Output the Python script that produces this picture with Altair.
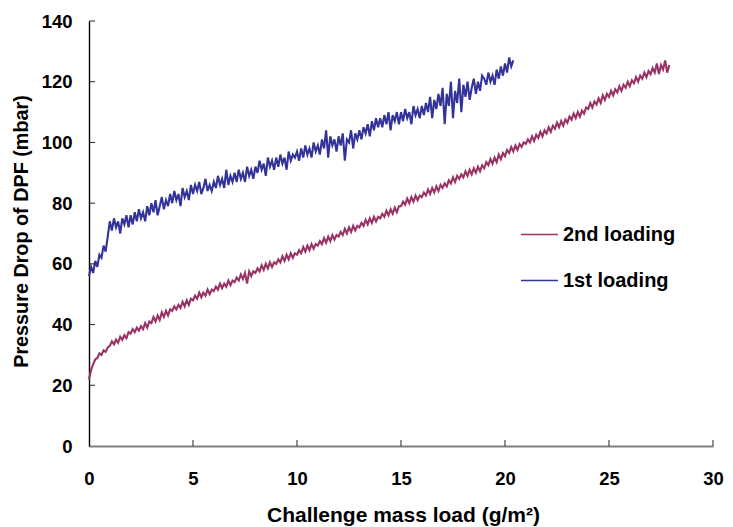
import altair as alt
import pandas as pd

X_STEP = 0.1

first_loading = [
    56, 59, 57, 61, 59, 63, 62, 66, 64, 69,
    74, 71, 75, 72, 74, 70, 75, 73, 76, 72,
    76, 73, 77, 74, 78, 75, 77, 74, 79, 76,
    80, 77, 81, 76, 79, 82, 78, 81, 79, 83,
    80, 84, 81, 83, 79, 85, 82, 84, 81, 86,
    83, 86, 84, 87, 83, 85, 88, 84, 86, 84,
    87, 85, 89, 86, 88, 85, 91, 86, 89, 87,
    90, 87, 91, 88, 90, 87, 92, 89, 91, 88,
    92, 90, 94, 91, 93, 89, 95, 92, 94, 91,
    95, 92, 96, 93, 95, 91, 97, 94, 96, 95,
    97, 94, 98, 95, 99, 96, 98, 95, 100, 97,
    99, 96, 101, 98, 104, 95, 102, 99, 101, 97,
    102, 99, 103, 94, 101, 100, 104, 98, 103, 101,
    104, 101, 105, 103, 106, 102, 107, 104, 108, 105,
    108, 105, 109, 106, 110, 104, 109, 107, 110, 106,
    110, 107, 111, 108, 110, 106, 112, 109, 111, 108,
    112, 109, 113, 110, 115, 108, 114, 111, 116, 112,
    118, 106, 116, 112, 120, 108, 117, 113, 121, 110,
    119, 115, 120, 114, 118, 121, 116, 120, 117, 122,
    121, 119, 123, 120, 122, 119, 124, 121, 125, 122,
    126, 123, 128, 125, 127,
]

second_loading = [
    22, 25, 27, 28.5, 29, 30.5, 30, 31.5, 31, 32.5,
    33, 34.5, 33.5, 35, 34, 36, 35, 36.5, 35.5, 37.5,
    37, 38.5, 37.5, 39, 38, 39.5, 38.5, 40.5, 39, 41,
    40.5, 42.5, 41, 43, 41.5, 44, 42.5, 44.5, 43, 45,
    44.5, 46, 45, 46.5, 45.5, 47.5, 46, 48, 46.5, 48.5,
    48, 49.5, 48.5, 50.5, 49, 50.5, 49.5, 51.5, 50, 51.5,
    51, 52.5, 51.5, 53.5, 52, 53.5, 52.5, 54.5, 53, 54.5,
    54, 55.5, 54.5, 56.5, 55, 57, 53.5, 57.5, 56, 57.5,
    57, 58.5, 57.5, 59.5, 58, 60, 58.5, 60.5, 59, 60.5,
    60, 61.5, 60.5, 62.5, 61, 63, 61.5, 63.5, 62, 63.5,
    63, 64.5, 63.5, 65.5, 64, 66, 64.5, 66.5, 65, 66.5,
    66, 67.5, 66.5, 68.5, 67, 69, 67.5, 69.5, 68, 69.5,
    69, 70.5, 69.5, 71.5, 70, 72, 70.5, 72.5, 71, 72.5,
    72, 73.5, 72.5, 74.5, 73, 75, 73.5, 75.5, 74, 75.5,
    75, 76.5, 75.5, 77.5, 76, 78, 76.5, 78.5, 77, 79,
    79, 80.5, 79.5, 81.5, 80, 82, 80.5, 82.5, 81, 82.5,
    82, 83.5, 82.5, 84.5, 83, 85, 83.5, 85.5, 84, 86,
    85, 86.5, 85.5, 87.5, 86.5, 88.5, 87, 89, 88, 89.5,
    88.5, 90.5, 89, 91, 89.5, 91.5, 90, 92, 90.5, 92.5,
    91.5, 93.5, 92.5, 94.5, 93, 95, 93.5, 96, 94.5, 96.5,
    95.5, 97.5, 96.5, 98.5, 97, 99, 97.5, 99.5, 98.5, 100,
    99.5, 101, 100, 102, 100.5, 102.5, 101.5, 103.5, 102, 104,
    103, 105, 103.5, 105.5, 104.5, 106.5, 105, 107, 105.5, 107.5,
    106.5, 108.5, 107.5, 109.5, 108, 110, 108.5, 110.5, 109.5, 111.5,
    111, 113, 111.5, 113.5, 112.5, 114.5, 113, 115.5, 114, 116,
    115, 117, 115.5, 117.5, 116.5, 118.5, 117, 119, 118, 120,
    118.5, 120.5, 119.5, 121.5, 120, 122, 121, 123, 121.5, 123.5,
    122.5, 124.5, 123, 126, 122.5, 125.5, 124, 127, 123, 125.5,
]

SERIES = ["2nd loading", "1st loading"]
COLORS = ["#993366", "#333399"]
X_TICKS = [0, 5, 10, 15, 20, 25, 30]
Y_TICKS = [0, 20, 40, 60, 80, 100, 120, 140]

rows = []
for i, v in enumerate(first_loading):
    rows.append({"x": round(i * X_STEP, 1), "y": v, "series": "1st loading"})
for i, v in enumerate(second_loading):
    rows.append({"x": round(i * X_STEP, 1), "y": v, "series": "2nd loading"})
df = pd.DataFrame(rows)

FONT = "Liberation Sans"
W, H = 624, 425

xscale = alt.Scale(domain=[0, 30], nice=False, zero=False)
yscale = alt.Scale(domain=[0, 140], nice=False)

X_AXIS = alt.Axis(values=X_TICKS, ticks=False, grid=False, labelFlush=False,
                  domainColor="#7f7f7f", domainWidth=1.8,
                  labelFont=FONT, labelFontSize=18.5, labelFontWeight="bold",
                  labelColor="black", labelPadding=23,
                  title="Challenge mass load (g/m²)",
                  titleFont=FONT, titleFontSize=21, titleFontWeight="bold",
                  titleColor="black", titleX=314, titleY=69,
                  titleBaseline="middle", titleAlign="center")
Y_AXIS = alt.Axis(values=Y_TICKS, ticks=False, grid=False, labelFlush=False,
                  domainColor="black", domainWidth=1.4,
                  labelFont=FONT, labelFontSize=18.5, labelFontWeight="bold",
                  labelColor="black", labelPadding=17,
                  title="Pressure Drop of DPF (mbar)",
                  titleFont=FONT, titleFontSize=19.8, titleFontWeight="bold",
                  titleColor="black", titleX=-68, titleY=210,
                  titleBaseline="middle", titleAlign="center", titleAngle=270)

lines = alt.Chart(df).mark_line(strokeWidth=2.1).encode(
    x=alt.X("x:Q", scale=xscale, axis=X_AXIS),
    y=alt.Y("y:Q", scale=yscale, axis=Y_AXIS),
    color=alt.Color("series:N",
                    scale=alt.Scale(domain=SERIES, range=COLORS),
                    legend=alt.Legend(title=None, orient="none", legendX=431, legendY=194,
                                      symbolType="stroke", symbolSize=1369,
                                      symbolStrokeWidth=1.3, labelOffset=4,
                                      labelFont=FONT, labelFontSize=20,
                                      labelFontWeight="bold", labelColor="black",
                                      rowPadding=16, padding=0)),
)

xticks = alt.Chart(pd.DataFrame({"x": X_TICKS[1:]})).mark_rule(color="#222", strokeWidth=1).encode(
    x=alt.X("x:Q", scale=xscale, axis=X_AXIS),
    y=alt.value(H),
    y2=alt.value(H - 6),
)

yticks = alt.Chart(pd.DataFrame({"y": Y_TICKS[1:]})).mark_rule(color="#222", strokeWidth=1).encode(
    y=alt.Y("y:Q", scale=yscale, axis=Y_AXIS),
    x=alt.value(0),
    x2=alt.value(6),
)

chart = alt.layer(lines, xticks, yticks).properties(
    width=W, height=H,
    autosize=alt.AutoSizeParams(type="none"),
    padding={"left": 81, "top": 13, "right": 12, "bottom": 83},
    background="white",
).configure_view(stroke=None)

chart.save("out.html", embed_options={"renderer": "svg", "actions": False})
